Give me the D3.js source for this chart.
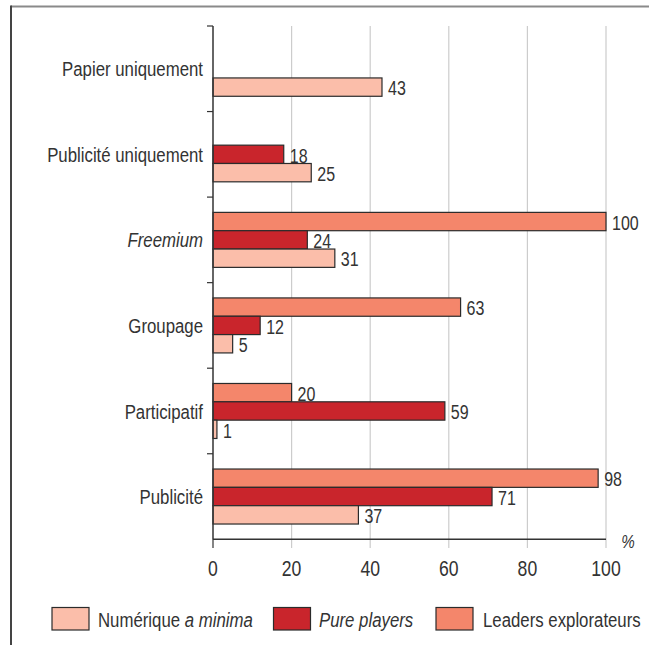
<!DOCTYPE html>
<html><head><meta charset="utf-8">
<script src="https://cdn.jsdelivr.net/npm/d3@7"></script>
<style>
html,body{margin:0;padding:0;background:#fff;}
svg{display:block;}
text{font-family:"Liberation Sans",Arial,sans-serif;fill:#333;}
</style></head>
<body>
<svg id="chart" width="649" height="645"></svg>
<script>
const categories = ["Papier uniquement","Publicité uniquement","Freemium","Groupage","Participatif","Publicité"];
const italicCategories = ["Freemium"];
const seriesKeys = ["leaders","pure","numerique"];
const seriesNames = ["Leaders explorateurs","Pure players","Numérique a minima"];
const leaders   = [null, null, 100, 63, 20, 98];
const pure      = [null, 18, 24, 12, 59, 71];
const numerique = [43, 25, 31, 5, 1, 37];
const xTicks = [0,20,40,60,80,100];
const colors = {leaders:"#F4866B", pure:"#C9252C", numerique:"#FBBEAA"};

const values = {leaders, pure, numerique};
const svg = d3.select("#chart");
const SX = 0.8; // condensed look

function addText(parent, x, y, parts, size, anchor){
  const t = parent.append("text")
    .attr("transform",`translate(${x},${y}) scale(${SX},1)`)
    .attr("dy","0.36em").attr("font-size",size).attr("text-anchor",anchor||"start");
  if(typeof parts === "string") t.text(parts);
  else parts.forEach(p=>t.append("tspan").attr("font-style",p[1]).text(p[0]));
  return t;
}

// frame
svg.append("line").attr("x1",11).attr("x2",649).attr("y1",6.5).attr("y2",6.5).attr("stroke","#8a8a8a").attr("stroke-width",2);
svg.append("line").attr("x1",11).attr("x2",11).attr("y1",5.5).attr("y2",645).attr("stroke","#444").attr("stroke-width",2);

const x = d3.scaleLinear().domain([0,100]).range([213,606]);
const y0 = d3.scaleBand().domain(categories).range([26,539.3]).padding(0);
const bandH = y0.bandwidth();
const y1 = d3.scaleBand().domain(seriesKeys).range([(bandH-55)/2,(bandH+55)/2]).padding(0);

// gridlines + bottom ticks
svg.append("g").selectAll("line").data(xTicks.slice(1)).join("line")
  .attr("x1",d=>x(d)).attr("x2",d=>x(d)).attr("y1",26).attr("y2",548)
  .attr("stroke","#cccccc").attr("stroke-width",1.2);
svg.append("line").attr("x1",x(0)).attr("x2",x(0)).attr("y1",539).attr("y2",548).attr("stroke","#333").attr("stroke-width",1.2);

// bars
const g = svg.append("g");
categories.forEach((c,i)=>{
  seriesKeys.forEach(k=>{
    const v = values[k][i];
    if(v==null) return;
    const yy = y0(c)+y1(k);
    g.append("rect").attr("x",x(0)).attr("y",yy).attr("width",x(v)-x(0)).attr("height",y1.bandwidth())
      .attr("fill",colors[k]).attr("stroke","#2b2b2b").attr("stroke-width",1.2);
    addText(g, x(v)+6, yy+y1.bandwidth()/2+1, String(v), 20);
  });
});

// y axis
svg.append("line").attr("x1",x(0)).attr("x2",x(0)).attr("y1",26).attr("y2",539.3).attr("stroke","#333").attr("stroke-width",1.5);
const bounds = categories.map(c=>y0(c));
svg.append("g").selectAll("line").data(bounds).join("line")
  .attr("x1",207).attr("x2",x(0)).attr("y1",d=>d).attr("y2",d=>d).attr("stroke","#333").attr("stroke-width",1.2);
const ga = svg.append("g");
categories.forEach(c=>{
  addText(ga, 203, y0(c)+bandH/2, [[c, italicCategories.includes(c)?"italic":"normal"]], 21, "end");
});

// x axis
svg.append("line").attr("x1",x(0)).attr("x2",x(100)).attr("y1",539.3).attr("y2",539.3).attr("stroke","#333").attr("stroke-width",1.5);
const gx = svg.append("g");
xTicks.forEach(d=>addText(gx, x(d), 568.5, String(d), 22, "middle"));
addText(svg, 628, 541, [["%","italic"]], 19, "middle");

// legend
const legendItems = [
  {k:"numerique", sx:52, tx:98, parts:[["Numérique ","normal"],["a minima","italic"]]},
  {k:"pure", sx:273.5, tx:319, parts:[["Pure players","italic"]]},
  {k:"leaders", sx:436, tx:483, parts:[["Leaders explorateurs","normal"]]}
];
legendItems.forEach(it=>{
  svg.append("rect").attr("x",it.sx).attr("y",607.5).attr("width",37).attr("height",22.5)
    .attr("fill",colors[it.k]).attr("stroke","#2b2b2b").attr("stroke-width",1.2);
  addText(svg, it.tx, 619.5, it.parts, 21);
});
</script>
</body></html>
